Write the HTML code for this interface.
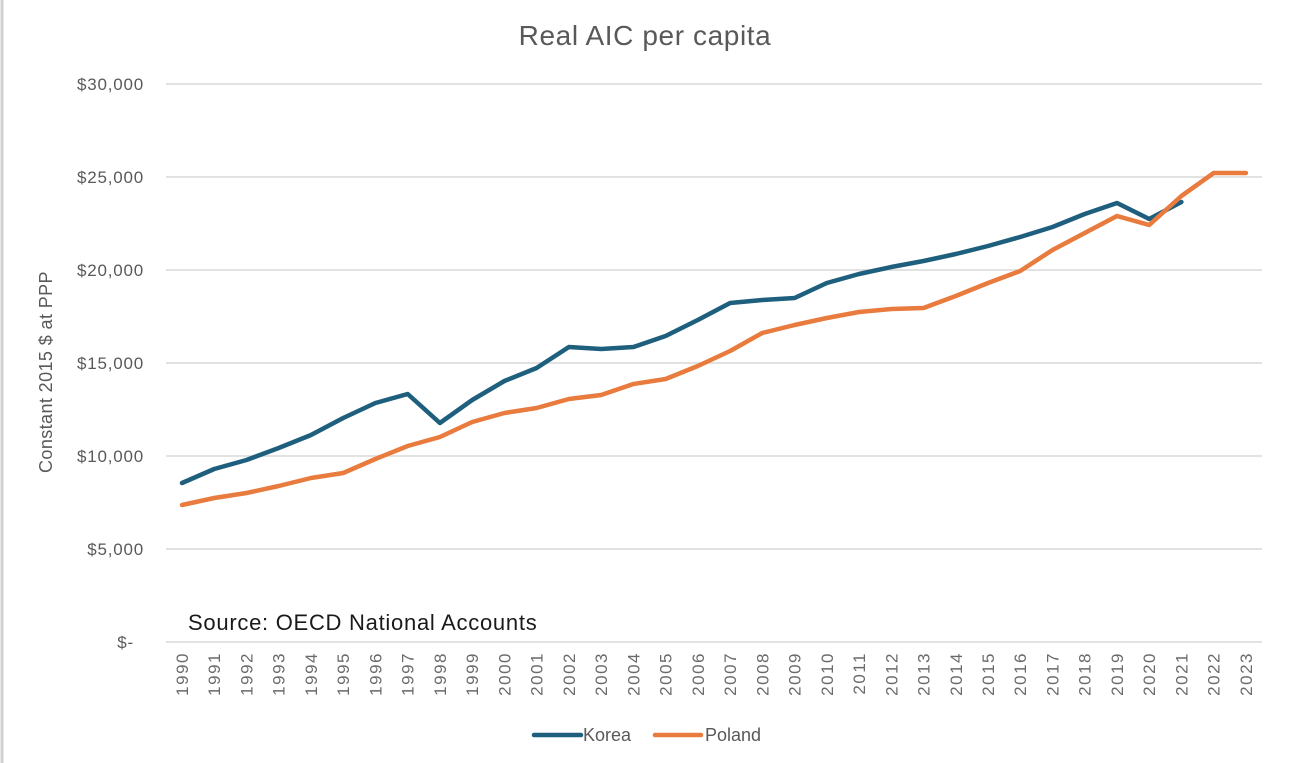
<!DOCTYPE html>
<html><head><meta charset="utf-8"><style>
html,body{margin:0;padding:0;background:#fff;}
svg{display:block;font-family:"Liberation Sans",sans-serif;}
</style></head><body>
<svg width="1290" height="763" viewBox="0 0 1290 763" xmlns="http://www.w3.org/2000/svg">
<rect x="0" y="0" width="1290" height="763" fill="#fff"/>
<line x1="2" y1="0" x2="2" y2="763" stroke="#d0d0d0" stroke-width="3"/>
<text x="645" y="45" text-anchor="middle" font-size="28" letter-spacing="0.6" fill="#595959">Real AIC per capita</text>
<g stroke="#d9d9d9" stroke-width="1.5">
<line x1="166" y1="84" x2="1262" y2="84"/>
<line x1="166" y1="177" x2="1262" y2="177"/>
<line x1="166" y1="270" x2="1262" y2="270"/>
<line x1="166" y1="363" x2="1262" y2="363"/>
<line x1="166" y1="456" x2="1262" y2="456"/>
<line x1="166" y1="549" x2="1262" y2="549"/>
<line x1="166" y1="642" x2="1262" y2="642"/>
</g>
<g font-size="17" fill="#595959" text-anchor="end" letter-spacing="0.8">
<text x="144" y="90">$30,000</text>
<text x="144" y="183">$25,000</text>
<text x="144" y="276">$20,000</text>
<text x="144" y="369">$15,000</text>
<text x="144" y="462">$10,000</text>
<text x="144" y="555">$5,000</text>
<text x="134" y="648">$-</text>
</g>
<text transform="translate(52,372) rotate(-90)" text-anchor="middle" font-size="18" letter-spacing="0.4" fill="#595959">Constant 2015 $ at PPP</text>
<g font-size="17" fill="#6a6a6a" text-anchor="end" letter-spacing="1.5">
<text transform="translate(188,652) rotate(-90)">1990</text>
<text transform="translate(220.2,652) rotate(-90)">1991</text>
<text transform="translate(252.5,652) rotate(-90)">1992</text>
<text transform="translate(284.7,652) rotate(-90)">1993</text>
<text transform="translate(317,652) rotate(-90)">1994</text>
<text transform="translate(349.2,652) rotate(-90)">1995</text>
<text transform="translate(381.4,652) rotate(-90)">1996</text>
<text transform="translate(413.7,652) rotate(-90)">1997</text>
<text transform="translate(445.9,652) rotate(-90)">1998</text>
<text transform="translate(478.2,652) rotate(-90)">1999</text>
<text transform="translate(510.4,652) rotate(-90)">2000</text>
<text transform="translate(542.6,652) rotate(-90)">2001</text>
<text transform="translate(574.9,652) rotate(-90)">2002</text>
<text transform="translate(607.1,652) rotate(-90)">2003</text>
<text transform="translate(639.4,652) rotate(-90)">2004</text>
<text transform="translate(671.6,652) rotate(-90)">2005</text>
<text transform="translate(703.8,652) rotate(-90)">2006</text>
<text transform="translate(736.1,652) rotate(-90)">2007</text>
<text transform="translate(768.3,652) rotate(-90)">2008</text>
<text transform="translate(800.6,652) rotate(-90)">2009</text>
<text transform="translate(832.8,652) rotate(-90)">2010</text>
<text transform="translate(865,652) rotate(-90)">2011</text>
<text transform="translate(897.3,652) rotate(-90)">2012</text>
<text transform="translate(929.5,652) rotate(-90)">2013</text>
<text transform="translate(961.8,652) rotate(-90)">2014</text>
<text transform="translate(994,652) rotate(-90)">2015</text>
<text transform="translate(1026.2,652) rotate(-90)">2016</text>
<text transform="translate(1058.5,652) rotate(-90)">2017</text>
<text transform="translate(1090.7,652) rotate(-90)">2018</text>
<text transform="translate(1123,652) rotate(-90)">2019</text>
<text transform="translate(1155.2,652) rotate(-90)">2020</text>
<text transform="translate(1187.4,652) rotate(-90)">2021</text>
<text transform="translate(1219.7,652) rotate(-90)">2022</text>
<text transform="translate(1251.9,652) rotate(-90)">2023</text>
</g>
<text x="188" y="630" font-size="22" letter-spacing="0.3" fill="#1a1a1a" textLength="349">Source: OECD National Accounts</text>
<polyline fill="none" stroke="#1f5f7e" stroke-width="4.5" stroke-linejoin="round" stroke-linecap="round" points="182,483 214.2,469 246.5,460 278.7,448 311,435 343.2,418 375.4,403 407.7,394 439.9,423 472.2,400 504.4,381 536.6,368 568.9,347 601.1,349 633.4,347 665.6,336 697.8,320 730.1,303 762.3,300 794.6,298 826.8,283 859,274 891.3,267 923.5,261 955.8,254 988,246 1020.2,237 1052.5,227 1084.7,214 1117,203 1149.2,219 1181.4,202"/>
<polyline fill="none" stroke="#e87b3d" stroke-width="4.5" stroke-linejoin="round" stroke-linecap="round" points="182,505 214.2,498 246.5,493 278.7,486 311,478 343.2,473 375.4,459 407.7,446 439.9,437 472.2,422 504.4,413 536.6,408 568.9,399 601.1,395 633.4,384 665.6,379 697.8,366 730.1,351 762.3,333 794.6,325 826.8,318 859,312 891.3,309 923.5,308 955.8,296 988,283 1020.2,271 1052.5,250 1084.7,233 1117,216 1149.2,225 1181.4,196 1213.7,173 1245.9,173"/>
<line x1="534" y1="735" x2="581" y2="735" stroke="#1f5f7e" stroke-width="4.5" stroke-linecap="round"/>
<text x="583" y="741" font-size="18" fill="#595959">Korea</text>
<line x1="655" y1="735" x2="701" y2="735" stroke="#e87b3d" stroke-width="4.5" stroke-linecap="round"/>
<text x="705" y="741" font-size="18" fill="#595959">Poland</text>
</svg>
</body></html>
